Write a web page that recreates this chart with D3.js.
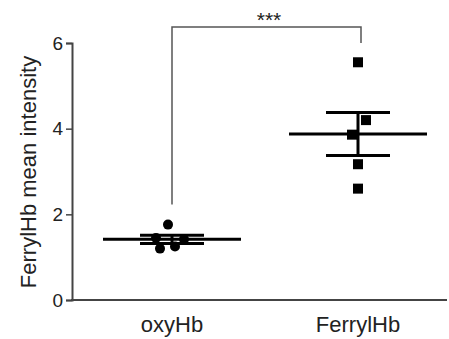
<!DOCTYPE html>
<html><head><meta charset="utf-8">
<script src="https://cdn.jsdelivr.net/npm/d3@7"></script>
<style>body{margin:0;background:#fff}svg{display:block}text{font-family:"Liberation Sans",Arial,sans-serif;fill:#222}</style>
</head><body>
<svg id="c" width="449" height="339"></svg>
<script>
const categories = ["oxyHb", "FerrylHb"];
const oxyValues = [1.45, 1.20, 1.76, 1.25, 1.42];
const ferrylValues = [3.86, 3.17, 5.55, 2.60, 4.20];
const jitter = [-16, -12, -4, 3, 12];
const ferrylJitter = [-6, 0, 0, 0, 8];
const yTicks = [0, 2, 4, 6];
const yLabel = "FerrylHb mean intensity";
const sigLabel = "***";

const series = [
  {cat: categories[0], values: oxyValues, jit: jitter, shape: "circle"},
  {cat: categories[1], values: ferrylValues, jit: ferrylJitter, shape: "square"}
];
series.forEach(s => {
  s.mean = d3.mean(s.values);
  s.sem = d3.deviation(s.values) / Math.sqrt(s.values.length);
});

const svg = d3.select("#c");
const y = d3.scaleLinear().domain([0, 6]).range([300, 43]);
const x = d3.scalePoint().domain(categories).range([172, 358]);
const axisColor = "#444";

const ya = svg.append("g").attr("transform", "translate(72,0)")
  .call(d3.axisLeft(y).tickValues(yTicks).tickFormat(d3.format("d")).tickSize(6).tickPadding(3));
ya.select(".domain").attr("stroke", axisColor).attr("stroke-width", 2);
ya.selectAll(".tick line").attr("stroke", axisColor).attr("stroke-width", 1.5);
ya.selectAll(".tick text").attr("font-size", 19).attr("font-family", "Liberation Sans, Arial, sans-serif").attr("fill", "#222");

svg.append("line").attr("x1", 71).attr("x2", 447).attr("y1", y(0)).attr("y2", y(0))
  .attr("stroke", axisColor).attr("stroke-width", 2);
svg.selectAll(".xl").data(categories).join("text")
  .attr("x", d => x(d)).attr("y", 332).attr("text-anchor", "middle")
  .attr("font-size", 22).text(d => d);

svg.append("text").attr("transform", "translate(36,172) rotate(-90)")
  .attr("text-anchor", "middle").attr("font-size", 22).text(yLabel);

const br = 27;
svg.append("path")
  .attr("d", `M${x(categories[0])},${y(series[0].values[2]) - 20}V${br}H${x(categories[1]) + 3}V${y(6)}`)
  .attr("fill", "none").attr("stroke", "#555").attr("stroke-width", 1.5);
svg.append("text").attr("x", (x(categories[0]) + x(categories[1])) / 2 + 4).attr("y", 27)
  .attr("text-anchor", "middle").attr("font-size", 21).attr("fill", "#333").text(sigLabel);

series.forEach(s => {
  const cx = x(s.cat);
  const g = svg.append("g");
  if (s.shape === "circle") {
    g.selectAll("circle").data(s.values).join("circle")
      .attr("cx", (d, i) => cx + s.jit[i]).attr("cy", d => y(d)).attr("r", 5).attr("fill", "#000");
  } else {
    g.selectAll("rect").data(s.values).join("rect")
      .attr("x", (d, i) => cx + s.jit[i] - 5).attr("y", d => y(d) - 5)
      .attr("width", 10).attr("height", 10).attr("fill", "#000");
  }
  const e = svg.append("g").attr("stroke", "#000").attr("stroke-width", 3);
  e.append("line").attr("x1", cx - 69).attr("x2", cx + 69).attr("y1", y(s.mean)).attr("y2", y(s.mean));
  e.append("line").attr("x1", cx).attr("x2", cx).attr("y1", y(s.mean + s.sem)).attr("y2", y(s.mean - s.sem));
  e.append("line").attr("x1", cx - 32).attr("x2", cx + 32).attr("y1", y(s.mean + s.sem)).attr("y2", y(s.mean + s.sem));
  e.append("line").attr("x1", cx - 32).attr("x2", cx + 32).attr("y1", y(s.mean - s.sem)).attr("y2", y(s.mean - s.sem));
});
</script>
</body></html>
